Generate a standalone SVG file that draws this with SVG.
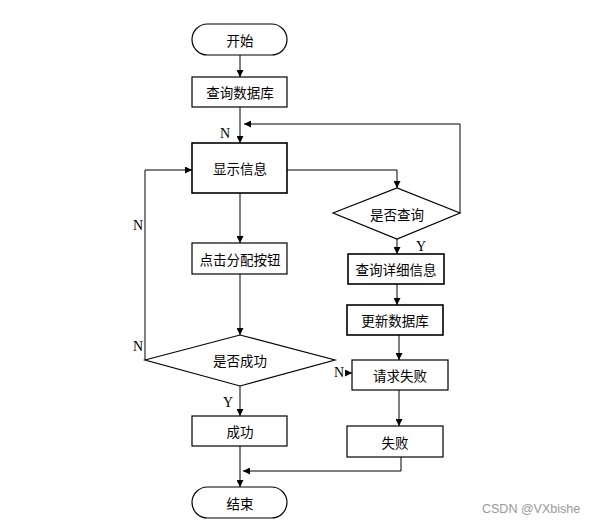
<svg xmlns="http://www.w3.org/2000/svg" width="589" height="526" viewBox="0 0 589 526">
<defs>
<marker id="ah" viewBox="0 0 10 10" refX="10" refY="5" markerWidth="7" markerHeight="7" markerUnits="userSpaceOnUse" orient="auto">
<path d="M0,0 L10,5 L0,10 z" fill="#000"/>
</marker>
</defs>
<style>
.box{fill:#fff;stroke:#000;stroke-width:1.2}
.t{font-family:"Noto Sans CJK SC","Noto Sans",sans-serif;font-size:13.5px;fill:#000;text-anchor:middle;dominant-baseline:central}
.l{font-family:"Liberation Serif",serif;font-size:14px;fill:#000;text-anchor:middle;dominant-baseline:central}
.c{fill:none;stroke:#000;stroke-width:1;marker-end:url(#ah)}
.wm{font-family:"Liberation Sans",Arial,sans-serif;font-size:12.5px;fill:#999}
</style>
<rect width="589" height="526" fill="#fff"/>
<g id="connectors">
<path class="c" d="M240,55 V77"/>
<path class="c" d="M240,107 V143"/>
<path class="c" d="M460,213 V124 H244"/>
<path class="c" d="M287,170 H397 V188"/>
<path class="c" d="M240,193 V243"/>
<path class="c" d="M240,274 V335"/>
<path class="c" d="M145,360 V170 H192"/>
<path class="c" d="M397,239 V254"/>
<path class="c" d="M397,284 V305"/>
<path class="c" d="M399,335 V360"/>
<path class="c" d="M345,373 H352"/>
<path class="c" d="M240,386 V416"/>
<path class="c" d="M399,390 V426"/>
<path class="c" d="M401,457 V471 H243"/>
<path class="c" d="M240,446 V487"/>
<text class="l" x="225" y="133">N</text>
<text class="l" x="138" y="225">N</text>
<text class="l" x="138" y="346">N</text>
<text class="l" x="421" y="246">Y</text>
<text class="l" x="339" y="372">N</text>
<text class="l" x="228" y="402">Y</text>
</g>
<g id="start"><rect class="box" x="192" y="24" width="95" height="31" rx="15.5"/><text class="t" x="240" y="39.5">开始</text></g>
<g id="querydb"><rect class="box" x="192" y="77" width="95" height="30"/><text class="t" x="240" y="92">查询数据库</text></g>
<g id="show"><rect class="box" x="192" y="143" width="95" height="50" style="stroke-width:1.6"/><text class="t" x="240" y="168">显示信息</text></g>
<g id="isquery"><polygon class="box" points="333,213 397,188 460,213 397,239"/><text class="t" x="397" y="213.5">是否查询</text></g>
<g id="click"><rect class="box" x="192" y="243" width="95" height="31"/><text class="t" x="240" y="258.5">点击分配按钮</text></g>
<g id="detail"><rect class="box" x="348" y="254" width="96" height="30" style="stroke-width:1.6"/><text class="t" x="396" y="269">查询详细信息</text></g>
<g id="update"><rect class="box" x="347" y="305" width="96" height="30" style="stroke-width:1.6"/><text class="t" x="395" y="320">更新数据库</text></g>
<g id="issuccess"><polygon class="box" points="145,360 240,335 335,360 240,386"/><text class="t" x="240" y="360">是否成功</text></g>
<g id="reqfail"><rect class="box" x="352" y="360" width="96" height="30"/><text class="t" x="400" y="375">请求失败</text></g>
<g id="success"><rect class="box" x="192" y="416" width="95" height="30"/><text class="t" x="240" y="431">成功</text></g>
<g id="fail"><rect class="box" x="347" y="426" width="96" height="31"/><text class="t" x="395" y="441.5">失败</text></g>
<g id="end"><rect class="box" x="192" y="487" width="95" height="31" rx="15.5"/><text class="t" x="240" y="502.5">结束</text></g>
<text class="wm" x="482" y="513">CSDN @VXbishe</text>
</svg>
